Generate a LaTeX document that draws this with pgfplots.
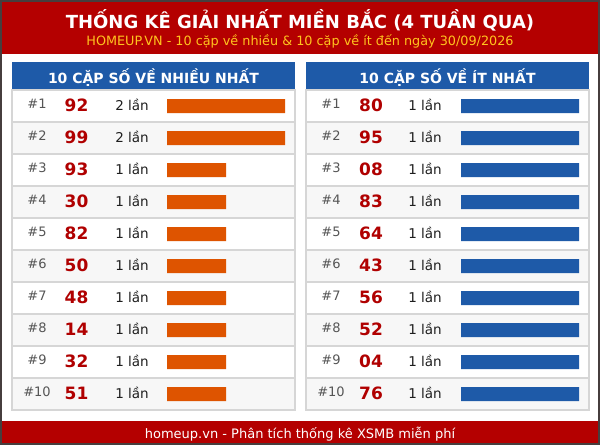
\documentclass[border=0pt]{standalone}
\usepackage{pgfplots}
\pgfplotsset{compat=1.18}
\usepackage{pgfplotstable}
\usepackage{fontspec}
\setmainfont{DejaVu Sans}
\definecolor{hdrred}{RGB}{180,0,0}
\definecolor{numred}{RGB}{176,0,0}
\definecolor{barorange}{RGB}{222,84,0}
\definecolor{barblue}{RGB}{30,90,168}
\definecolor{subyellow}{RGB}{255,196,30}
\definecolor{rowgray}{RGB}{247,247,247}
\definecolor{linegray}{RGB}{214,214,214}
\definecolor{rankgray}{RGB}{85,85,85}
\definecolor{txtdark}{RGB}{30,30,30}
\definecolor{framec}{RGB}{70,62,62}

\pgfplotstableread{
rank cnt
1 2
2 2
3 1
4 1
5 1
6 1
7 1
8 1
9 1
10 1
}\lefttable
\pgfplotstableread{
rank cnt
1 1
2 1
3 1
4 1
5 1
6 1
7 1
8 1
9 1
10 1
}\righttable

\begin{document}
\begin{tikzpicture}
\begin{scope}[x=1pt,y=-1pt]
\fill[white] (0,0) rectangle (600,445);
\useasboundingbox (0,0) rectangle (600,445);
% header
\fill[hdrred] (0,0) rectangle (600,54);
\node[anchor=base, text=white, inner sep=0pt, font=\fontsize{18}{20}\selectfont\bfseries] at (300,28.3) {THỐNG KÊ GIẢI NHẤT MIỀN BẮC (4 TUẦN QUA)};
\node[anchor=base, text=subyellow, inner sep=0pt, font=\fontsize{12.8}{14}\selectfont] at (300,45) {HOMEUP.VN - 10 cặp về nhiều \& 10 cặp về ít đến ngày 30/09/2026};
% panels
\foreach \px in {12,306}{
  \fill[barblue] (\px,62) rectangle (\px+283,89.5);
  \foreach \i in {1,...,10}{
    \pgfmathsetmacro{\top}{90+32*(\i-1)}
    \ifodd\i
      \draw[linegray, line width=1.3pt, fill=white] (\px,\top) rectangle (\px+283,\top+32);
    \else
      \draw[linegray, line width=1.3pt, fill=rowgray] (\px,\top) rectangle (\px+283,\top+32);
    \fi
  }
}
\node[anchor=base, text=white, inner sep=0pt, font=\fontsize{14}{16}\selectfont\bfseries] at (153.5,83.3) {10 CẶP SỐ VỀ NHIỀU NHẤT};
\node[anchor=base, text=white, inner sep=0pt, font=\fontsize{14}{16}\selectfont\bfseries] at (447.5,83.3) {10 CẶP SỐ VỀ ÍT NHẤT};
% left labels
\foreach \n/\c [count=\i] in {92/2,99/2,93/1,30/1,82/1,50/1,48/1,14/1,32/1,51/1}{
  \pgfmathsetmacro{\top}{90+32*(\i-1)}
  \node[anchor=base, text=rankgray, inner sep=0pt, font=\fontsize{13}{14}\selectfont] at (37,\top+18) {\#\i};
  \node[anchor=base, text=numred, inner sep=0pt, font=\fontsize{17}{18}\selectfont\bfseries] at (76.5,\top+21) {\n};
  \node[anchor=base, text=txtdark, inner sep=0pt, font=\fontsize{13.5}{15}\selectfont] at (132,\top+20) {\c{} lần};
}
% right labels
\foreach \n/\c [count=\i] in {80/1,95/1,08/1,83/1,64/1,43/1,56/1,52/1,04/1,76/1}{
  \pgfmathsetmacro{\top}{90+32*(\i-1)}
  \node[anchor=base, text=rankgray, inner sep=0pt, font=\fontsize{13}{14}\selectfont] at (331,\top+18) {\#\i};
  \node[anchor=base, text=numred, inner sep=0pt, font=\fontsize{17}{18}\selectfont\bfseries] at (371,\top+21) {\n};
  \node[anchor=base, text=txtdark, inner sep=0pt, font=\fontsize{13.5}{15}\selectfont] at (425,\top+20) {\c{} lần};
}
% footer
\fill[hdrred] (0,421) rectangle (600,445);
\node[anchor=base, text=white, inner sep=0pt, font=\fontsize{13}{15}\selectfont] at (300,438) {homeup.vn - Phân tích thống kê XSMB miễn phí};
\end{scope}

\begin{axis}[at={(167pt,-410pt)}, anchor=south west, scale only axis,
  width=118pt, height=320pt, xmin=0, xmax=2, ymin=0.5, ymax=10.5,
  y dir=reverse, hide axis, xbar, bar width=14pt, clip=false]
\addplot[fill=barorange, draw=none] table[x=cnt, y=rank]{\lefttable};
\end{axis}
\begin{axis}[at={(461pt,-410pt)}, anchor=south west, scale only axis,
  width=118pt, height=320pt, xmin=0, xmax=1, ymin=0.5, ymax=10.5,
  y dir=reverse, hide axis, xbar, bar width=14pt, clip=false]
\addplot[fill=barblue, draw=none] table[x=cnt, y=rank]{\righttable};
\end{axis}

\begin{scope}[x=1pt,y=-1pt]
\draw[framec, line width=2pt] (1,1) rectangle (599,444);
\end{scope}
\end{tikzpicture}
\end{document}
